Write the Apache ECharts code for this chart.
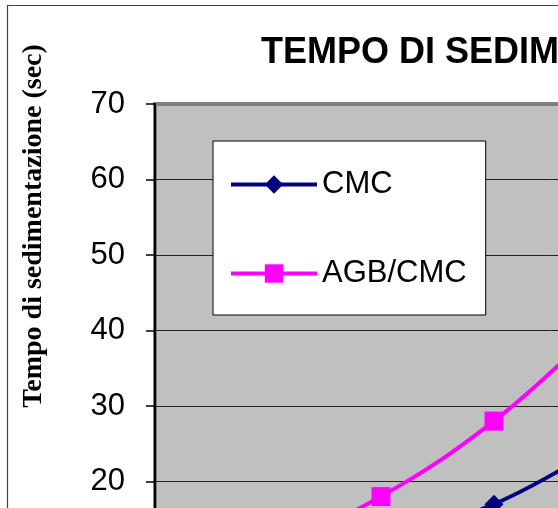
<!DOCTYPE html>
<html>
<head>
<meta charset="utf-8">
<script src="https://cdn.jsdelivr.net/npm/echarts@6/dist/echarts.min.js"></script>
<style>
html,body{margin:0;padding:0;overflow:hidden;background:#fff;}
#chart{width:1050px;height:720px;}
</style>
</head>
<body>
<div id="chart"></div>
<script>
// ---- data ----
var categories = ["1", "2", "3", "4", "5", "6", "7", "8"];
var cmcValues = [4, 8, 12, 17, 25, 33, 42, 50];
var agbCmcValues = [6, 11, 18, 28, 41, 52, 61, 68];
var yTicks = [0, 10, 20, 30, 40, 50, 60, 70];
var titleText = "TEMPO DI SEDIMENTAZIONE";
var yTitle = "Tempo di sedimentazione (sec)";
var seriesNames = ["CMC", "AGB/CMC"];

var chart = echarts.init(document.getElementById('chart'), null, {renderer: 'canvas'});
var sans = 'Liberation Sans, Arial, sans-serif';
var option = {
  animation: false,
  backgroundColor: '#fff',
  title: {
    text: titleText,
    left: 261, top: 35, padding: 0,
    textStyle: {fontFamily: sans, fontSize: 36, fontWeight: 'bold', color: '#000'}
  },
  graphic: [
    {type: 'rect', shape: {x: 7.5, y: 5.5, width: 2000, height: 2000},
     style: {fill: 'none', stroke: '#404040', lineWidth: 1.2}, z: 100},
    {type: 'text', x: 34, y: 226, rotation: Math.PI / 2,
     style: {text: yTitle, font: 'bold 28px "Liberation Serif", "Times New Roman", serif',
             fill: '#000', textAlign: 'center', textVerticalAlign: 'middle'}}
  ],
  legend: {
    orient: 'vertical', left: 213, top: 141,
    padding: [28, 19, 26, 16],
    itemGap: 58, itemWidth: 86, itemHeight: 23,
    backgroundColor: '#fff', borderColor: '#000', borderWidth: 1,
    lineStyle: {width: 4},
    textStyle: {fontFamily: sans, fontSize: 31, color: '#000'},
    data: seriesNames
  },
  grid: {
    left: 155, top: 104, width: 791, height: 528.5,
    show: true, backgroundColor: '#C0C0C0', borderColor: '#808080', borderWidth: 4
  },
  xAxis: {
    type: 'category', data: categories, boundaryGap: false,
    axisLine: {lineStyle: {color: '#000', width: 2}},
    axisTick: {show: true, length: 9, lineStyle: {color: '#000', width: 1.5}},
    axisLabel: {fontFamily: sans, fontSize: 31, color: '#000', margin: 14},
    splitLine: {show: false}
  },
  yAxis: {
    type: 'value', min: yTicks[0], max: yTicks[yTicks.length - 1], interval: 10,
    axisLine: {show: true, lineStyle: {color: '#000', width: 2}},
    axisTick: {show: true, length: 9, lineStyle: {color: '#000', width: 1.5}},
    axisLabel: {fontFamily: sans, fontSize: 31, color: '#000', margin: 30},
    splitLine: {show: true, showMaxLine: false, lineStyle: {color: '#202020', width: 1}}
  },
  series: [
    {name: seriesNames[0], type: 'line', data: cmcValues, smooth: 0.4,
     symbol: 'diamond', symbolSize: 19,
     lineStyle: {color: '#000080', width: 4}, itemStyle: {color: '#000080'}},
    {name: seriesNames[1], type: 'line', data: agbCmcValues, smooth: 0.4,
     symbol: 'rect', symbolSize: 19,
     lineStyle: {color: '#FF00FF', width: 4}, itemStyle: {color: '#FF00FF'}}
  ]
};
chart.setOption(option);
</script>
</body>
</html>
